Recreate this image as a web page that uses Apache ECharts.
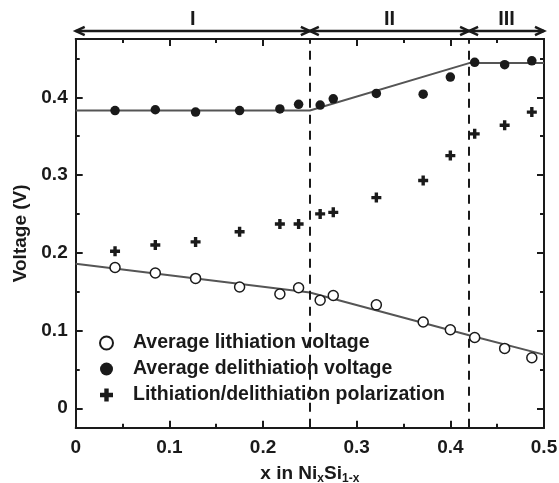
<!DOCTYPE html>
<html>
<head>
<meta charset="utf-8">
<script src="https://cdn.jsdelivr.net/npm/echarts@6/dist/echarts.min.js"></script>
<style>
html,body{margin:0;padding:0;background:#fff;}
#chart{width:559px;height:483px;}
</style>
</head>
<body>
<div id="chart"></div>
<script>
// ---- data ----
var xValues = [0.042, 0.085, 0.128, 0.175, 0.218, 0.238, 0.261, 0.275, 0.321, 0.371, 0.400, 0.426, 0.458, 0.487];
var lithiation = [0.181, 0.174, 0.167, 0.156, 0.147, 0.155, 0.139, 0.145, 0.133, 0.111, 0.101, 0.091, 0.077, 0.065];
var delithiation = [0.383, 0.384, 0.381, 0.383, 0.385, 0.391, 0.390, 0.398, 0.405, 0.404, 0.426, 0.445, 0.442, 0.447];
var polarization = [0.202, 0.210, 0.214, 0.227, 0.237, 0.237, 0.250, 0.252, 0.271, 0.293, 0.325, 0.353, 0.364, 0.381];
var lithFitX = [0, 0.25, 0.42, 0.5];
var lithFitY = [0.186, 0.149, 0.094, 0.069];
var delithFitX = [0, 0.25, 0.42, 0.5];
var delithFitY = [0.383, 0.383, 0.444, 0.444];
var regionBounds = [0, 0.25, 0.42, 0.5];
var regionLabels = ['I', 'II', 'III'];
var yMajorTicks = [0, 0.1, 0.2, 0.3, 0.4];
var yMinorTicks = [0.05, 0.15, 0.25, 0.35, 0.45];
var legendNames = ['Average lithiation voltage', 'Average delithiation voltage', 'Lithiation/delithiation polarization'];

function zip(a, b) { return a.map(function (v, i) { return [v, b[i]]; }); }

var FONT = "'Liberation Sans', Arial, Helvetica, sans-serif";
var INK = '#1a1a1a';
var plusPath = 'path://M3.3,0H6.7V3.3H10V6.7H6.7V10H3.3V6.7H0V3.3H3.3Z';

var chart = echarts.init(document.getElementById('chart'), null, {renderer: 'canvas'});

var yBase = {
  type: 'value', min: -0.025, max: 0.475,
  splitLine: {show: false},
  axisLine: {show: true, onZero: false, lineStyle: {color: INK, width: 2}}
};
function yAxisDef(pos, ticks, len, labels) {
  return Object.assign({}, yBase, {
    position: pos,
    axisTick: {show: true, inside: true, length: len, customValues: ticks, lineStyle: {color: INK, width: 2}},
    axisLabel: labels ? {show: true, customValues: ticks, margin: 8, color: INK, fontFamily: FONT, fontWeight: 'bold', fontSize: 19,
      formatter: function (v) { return String(+v.toFixed(2)); }} : {show: false}
  });
}

var yAxes = [
  Object.assign(yAxisDef('left', yMajorTicks, 7, true), {
    name: 'Voltage (V)', nameLocation: 'middle', nameGap: 37, nameRotate: 90,
    nameTextStyle: {color: INK, fontFamily: FONT, fontWeight: 'bold', fontSize: 19}
  }),
  yAxisDef('left', yMinorTicks, 4, false),
  yAxisDef('right', yMajorTicks, 7, false),
  yAxisDef('right', yMinorTicks, 4, false)
];

function xAxisDef(pos, labels) {
  var ax = {
    type: 'value', position: pos, min: 0, max: 0.5, interval: 0.1,
    splitLine: {show: false},
    axisLine: {show: true, onZero: false, lineStyle: {color: INK, width: 2}},
    axisTick: {show: true, inside: true, length: 7, lineStyle: {color: INK, width: 2}},
    minorTick: {show: true, splitNumber: 2, length: 4, lineStyle: {color: INK, width: 2}},
    axisLabel: labels ? {show: true, margin: 11, color: INK, fontFamily: FONT, fontWeight: 'bold', fontSize: 19,
      showMinLabel: true, showMaxLabel: true,
      formatter: function (v) { return String(+v.toFixed(2)); }} : {show: false}
  };
  if (labels) {
    ax.name = 'x in Ni{sub|x}Si{sub|1-x}';
    ax.nameLocation = 'middle';
    ax.nameGap = 24;
    ax.nameTextStyle = {
      color: INK, fontFamily: FONT, fontWeight: 'bold', fontSize: 19, lineHeight: 22,
      rich: {sub: {fontFamily: FONT, fontWeight: 'bold', fontSize: 12, lineHeight: 9, verticalAlign: 'bottom', color: INK}}
    };
  }
  return ax;
}

var option = {
  animation: false,
  backgroundColor: '#fff',
  grid: {left: 75.7, right: 15, top: 39, bottom: 55.3, containLabel: false, outerBoundsMode: 'none'},
  xAxis: [xAxisDef('bottom', true), xAxisDef('top', false)],
  yAxis: yAxes,
  legend: {
    data: legendNames,
    orient: 'vertical',
    left: 94, top: 328,
    itemWidth: 43, itemHeight: 13, itemGap: 6,
    selectedMode: false,
    textStyle: {color: INK, fontFamily: FONT, fontWeight: 'bold', fontSize: 19.5, lineHeight: 20}
  },
  series: [
    {
      name: 'lithFit', type: 'line', data: zip(lithFitX, lithFitY), showSymbol: false, symbol: 'none',
      lineStyle: {color: '#555', width: 2}, z: 2, silent: true,
      markLine: {
        silent: true, symbol: ['none', 'none'], label: {show: false},
        lineStyle: {color: INK, width: 2, type: [9, 7]},
        data: regionBounds.slice(1, 3).map(function (b) { return {xAxis: b}; })
      }
    },
    {
      name: 'delithFit', type: 'line', data: zip(delithFitX, delithFitY), showSymbol: false, symbol: 'none',
      lineStyle: {color: '#555', width: 2}, z: 2, silent: true
    },
    {
      name: legendNames[0], type: 'scatter', data: zip(xValues, lithiation),
      symbol: 'circle', symbolSize: 10, z: 5,
      itemStyle: {color: '#fff', borderColor: INK, borderWidth: 1.5, opacity: 1}
    },
    {
      name: legendNames[1], type: 'scatter', data: zip(xValues, delithiation),
      symbol: 'circle', symbolSize: 9.5, z: 5,
      itemStyle: {color: INK, opacity: 1}
    },
    {
      name: legendNames[2], type: 'scatter', data: zip(xValues, polarization),
      symbol: plusPath, symbolSize: 10, z: 5,
      itemStyle: {color: INK, opacity: 1}
    }
  ]
};
chart.setOption(option);

// region arrows above the plot
function px(v) { return chart.convertToPixel({xAxisIndex: 0}, v); }
var arrowY = 31, ah = 9, aw = 4.2;
var g = [];
var x0 = px(regionBounds[0]), x1 = px(regionBounds[regionBounds.length - 1]);
g.push({type: 'line', shape: {x1: x0, y1: arrowY, x2: x1, y2: arrowY}, style: {stroke: INK, lineWidth: 2.5}});
regionBounds.forEach(function (b, i) {
  var p = px(b);
  if (i > 0) {
    g.push({type: 'polyline', shape: {points: [[p - ah, arrowY - aw], [p, arrowY], [p - ah, arrowY + aw]]}, style: {stroke: INK, lineWidth: 2.5, fill: null}});
  }
  if (i < regionBounds.length - 1) {
    g.push({type: 'polyline', shape: {points: [[p + ah, arrowY - aw], [p, arrowY], [p + ah, arrowY + aw]]}, style: {stroke: INK, lineWidth: 2.5, fill: null}});
  }
});
regionLabels.forEach(function (lab, i) {
  var mid = px((regionBounds[i] + regionBounds[i + 1]) / 2);
  g.push({type: 'text', x: mid, y: 19, style: {text: lab, fill: INK, font: 'bold 20px ' + FONT, align: 'center', verticalAlign: 'middle'}});
});
chart.setOption({graphic: g});
</script>
</body>
</html>
